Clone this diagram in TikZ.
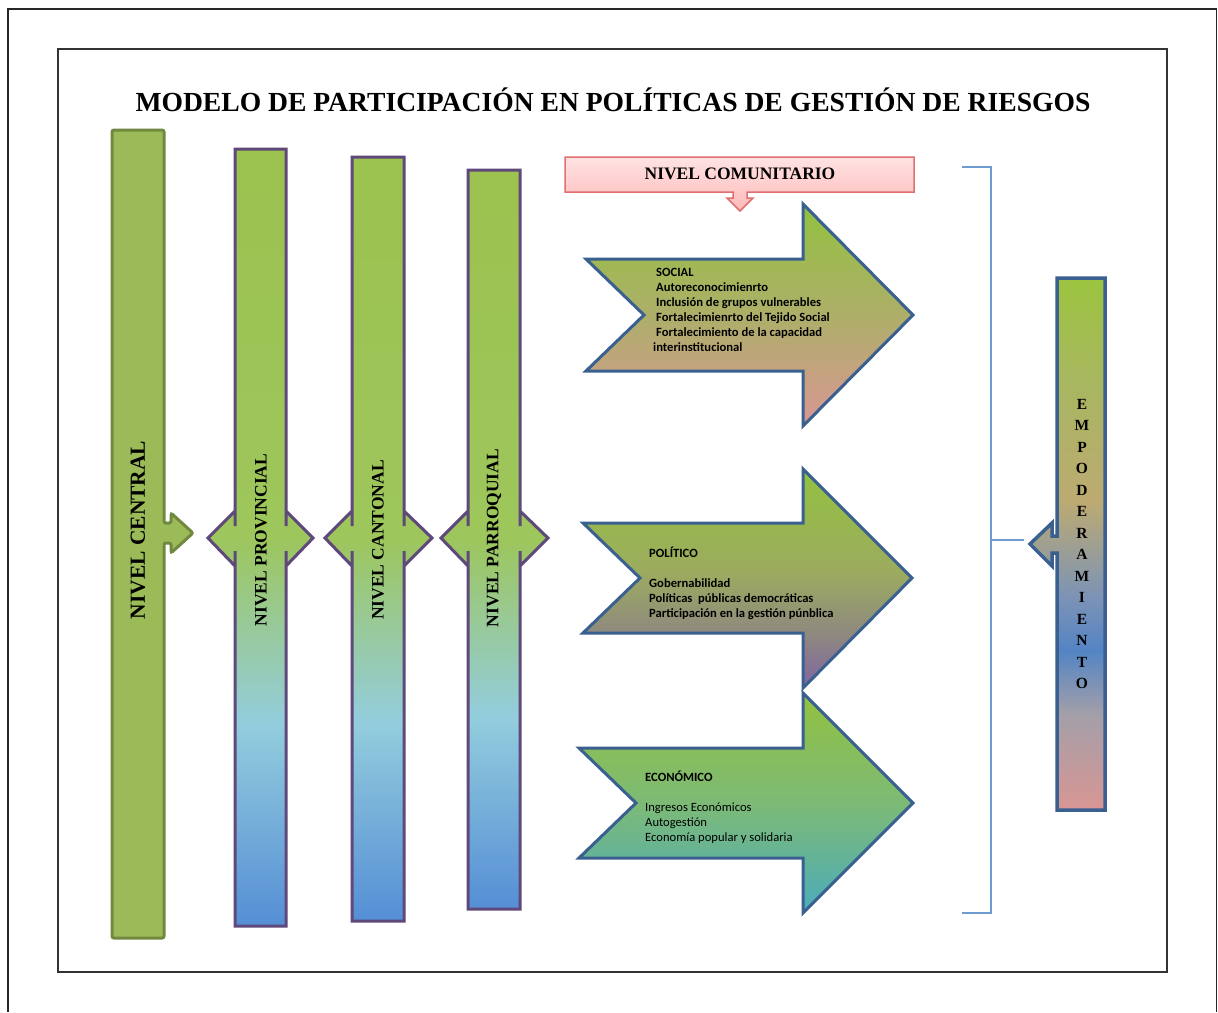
\documentclass[tikz,border=0pt]{standalone}
\usepackage{fontspec}
\setmainfont{Liberation Serif}
\newfontfamily\calfont{Carlito}
\definecolor{cOlive}{HTML}{9BBB59}
\definecolor{cOliveDark}{HTML}{71893F}
\definecolor{cPurple}{HTML}{5F497A}
\definecolor{cGreen}{HTML}{9CC24F}
\definecolor{cLGreen}{HTML}{9DC65C}
\definecolor{cLBlue}{HTML}{93CDDD}
\definecolor{cBlue}{HTML}{558ED5}
\definecolor{cArrowBorder}{HTML}{3A6090}
\definecolor{aGreen}{HTML}{92C13F}
\definecolor{aSalmon}{HTML}{D99694}
\definecolor{aOlive}{HTML}{ADAF69}
\definecolor{aGreyOl}{HTML}{9CAC5E}
\definecolor{aGrey}{HTML}{8E8880}
\definecolor{aPurple}{HTML}{8064A2}
\definecolor{aMidTeal}{HTML}{7DBA76}
\definecolor{aTeal}{HTML}{4BACBA}
\definecolor{eGreen}{HTML}{9BC43F}
\definecolor{eOl}{HTML}{A8B660}
\definecolor{eTan}{HTML}{BCAA72}
\definecolor{eGB}{HTML}{7C93B6}
\definecolor{eBlue}{HTML}{5484C4}
\definecolor{eGP}{HTML}{A39FA8}
\definecolor{ePink}{HTML}{D99694}
\definecolor{pTop}{HTML}{FFE3E3}
\definecolor{pBot}{HTML}{FFB9B9}
\definecolor{pBorder}{HTML}{E07070}
\definecolor{bBlue}{HTML}{6F9BD0}
\pgfdeclareverticalshading{colshade}{100bp}{color(0bp)=(cBlue); color(25bp)=(cBlue); color(38bp)=(cLBlue); color(50bp)=(cLGreen); color(75bp)=(cGreen); color(100bp)=(cGreen)}
\pgfdeclareverticalshading{socshade}{100bp}{color(0bp)=(aSalmon); color(25bp)=(aSalmon); color(50bp)=(aOlive); color(75bp)=(aGreen); color(100bp)=(aGreen)}
\pgfdeclareverticalshading{polshade}{100bp}{color(0bp)=(aPurple); color(25bp)=(aPurple); color(37bp)=(aGrey); color(52bp)=(aGreyOl); color(75bp)=(aGreen); color(100bp)=(aGreen)}
\pgfdeclareverticalshading{ecoshade}{100bp}{color(0bp)=(aTeal); color(25bp)=(aTeal); color(50bp)=(aMidTeal); color(75bp)=(aGreen); color(100bp)=(aGreen)}
\pgfdeclareverticalshading{empshade}{100bp}{color(0bp)=(ePink); color(25bp)=(ePink); color(34bp)=(eGP); color(40bp)=(eBlue); color(45bp)=(eGB); color(54bp)=(eTan); color(65bp)=(eOl); color(75bp)=(eGreen); color(100bp)=(eGreen)}
\begin{document}
\begin{tikzpicture}[x=1pt,y=-1pt,
  colborder/.style={draw=cPurple, line width=3pt, shade, shading=colshade},
  bigarrow/.style={draw=cArrowBorder, line width=3pt, shade},
  bracketline/.style={draw=bBlue, line width=1.3pt},
  coltext/.style={rotate=90, font=\bfseries\fontsize{17.5}{20}\selectfont, inner sep=0pt},
  armtext/.style={anchor=base west, inner sep=0pt, font=\calfont\bfseries\fontsize{12.6}{14}\selectfont},
  armtextreg/.style={anchor=base west, inner sep=0pt, font=\calfont\fontsize{12.6}{14}\selectfont}]
\useasboundingbox (0,0) rectangle (1218,1012);
\fill[white] (0,0) rectangle (1218,1012);
% outer frame
\draw[line width=1.5pt, black!85] (8,1012) -- (8,9) -- (1216.5,9) -- (1216.5,1012);
% inner frame
\draw[line width=1.3pt, black!80] (58,49) rectangle (1167,972);
% title
\node[font=\bfseries\fontsize{27.6}{32}\selectfont, inner sep=0pt] (title) at (613,100) {MODELO DE PARTICIPACIÓN EN POLÍTICAS DE GESTIÓN DE RIESGOS};
% nivel central
\draw[fill=cOlive, draw=cOliveDark, line width=3pt, rounded corners=2pt] (112,130) -- (164,130) -- (164,523) -- (171,523) -- (171,513) -- (193,533) -- (171,553) -- (171,543) -- (164,543) -- (164,938) -- (112,938) -- cycle;
\node[rotate=90, font=\bfseries\fontsize{21.5}{24}\selectfont, inner sep=0pt] (central) at (138,530) {NIVEL CENTRAL};
% nivel provincial
\path[colborder] (235,149) -- (286,149) -- (286,526) -- (286,511) -- (313,538) -- (286,566) -- (286,551) -- (286,926) -- (235,926) -- (235,551) -- (235,566) -- (208,538) -- (235,511) -- (235,526) -- cycle;
\node[coltext] (provincial) at (261,540) {NIVEL PROVINCIAL};
% nivel cantonal
\path[colborder] (352,157) -- (404,157) -- (404,526) -- (404,511) -- (432,538) -- (404,566) -- (404,551) -- (404,921) -- (352,921) -- (352,551) -- (352,566) -- (325,538) -- (352,511) -- (352,526) -- cycle;
\node[coltext] (cantonal) at (378,540) {NIVEL CANTONAL};
% nivel parroquial
\path[colborder] (468,170) -- (520,170) -- (520,526) -- (520,511) -- (548,538) -- (520,566) -- (520,551) -- (520,909) -- (468,909) -- (468,551) -- (468,566) -- (441,538) -- (468,511) -- (468,526) -- cycle;
\node[coltext] (parroquial) at (494,538) {NIVEL PARROQUIAL};
% nivel comunitario
\path[draw=pBorder, line width=1.5pt, top color=pTop, bottom color=pBot] (565,157) -- (914,157) -- (914,192) -- (747,192) -- (747,198) -- (753,198) -- (740,211) -- (727,198) -- (733,198) -- (733,192) -- (565,192) -- cycle;
\node[font=\bfseries\fontsize{17.5}{19}\selectfont, inner sep=0pt] (comunitario) at (740,174) {NIVEL COMUNITARIO};
% social arrow
\path[bigarrow, shading=socshade] (586,259) -- (803,259) -- (803,204) -- (913,315) -- (803,426) -- (803,371) -- (586,371) -- (644,315) -- cycle;
\node[armtext] (s1) at (656,276) {SOCIAL};
\node[armtext] (s2) at (656,291) {Autoreconocimienrto};
\node[armtext] (s3) at (656,306) {Inclusión de grupos vulnerables};
\node[armtext] (s4) at (656,321) {Fortalecimienrto del Tejido Social};
\node[armtext] (s5) at (656,336) {Fortalecimiento de la capacidad};
\node[armtext] (s6) at (653,351) {interinstitucional};
% politico arrow
\path[bigarrow, shading=polshade] (583,523) -- (803,523) -- (803,469) -- (912,578) -- (803,688) -- (803,633) -- (583,633) -- (640,578) -- cycle;
\node[armtext] (p1) at (649,557) {POLÍTICO};
\node[armtext] (p2) at (649,587) {Gobernabilidad};
\node[armtext] (p3) at (649,602) {Políticas~ públicas democráticas};
\node[armtext] (p4) at (649,617) {Participación en la gestión púnblica};
% economico arrow
\path[bigarrow, shading=ecoshade] (579,748) -- (803,748) -- (803,693) -- (913,803) -- (803,913) -- (803,858) -- (579,858) -- (636,803) -- cycle;
\node[armtext] (e1) at (645,781) {ECONÓMICO};
\node[armtextreg] (e2) at (645,811) {Ingresos Económicos};
\node[armtextreg] (e3) at (645,826) {Autogestión};
\node[armtextreg] (e4) at (645,841) {Economía popular y solidaria};
% bracket
\draw[bracketline] (962,167) -- (991,167) -- (991,913) -- (962,913);
\coordinate (bmid) at (991,540);
\coordinate (bend) at (1024,540);
\draw[bracketline] (bmid) -- (bend);
% empoderamiento
\path[draw=cArrowBorder, line width=3.5pt, shade, shading=empshade] (1057,278) -- (1105,278) -- (1105,810) -- (1057,810) -- (1057,553) -- (1052,553) -- (1052,566) -- (1030,544) -- (1052,523) -- (1052,536) -- (1057,536) -- cycle;
\node[font=\bfseries\fontsize{15.5}{21.5}\selectfont, align=center, inner sep=0pt] (empoderamiento) at (1082,544) {E\\M\\P\\O\\D\\E\\R\\A\\M\\I\\E\\N\\T\\O};
\end{tikzpicture}
\end{document}
